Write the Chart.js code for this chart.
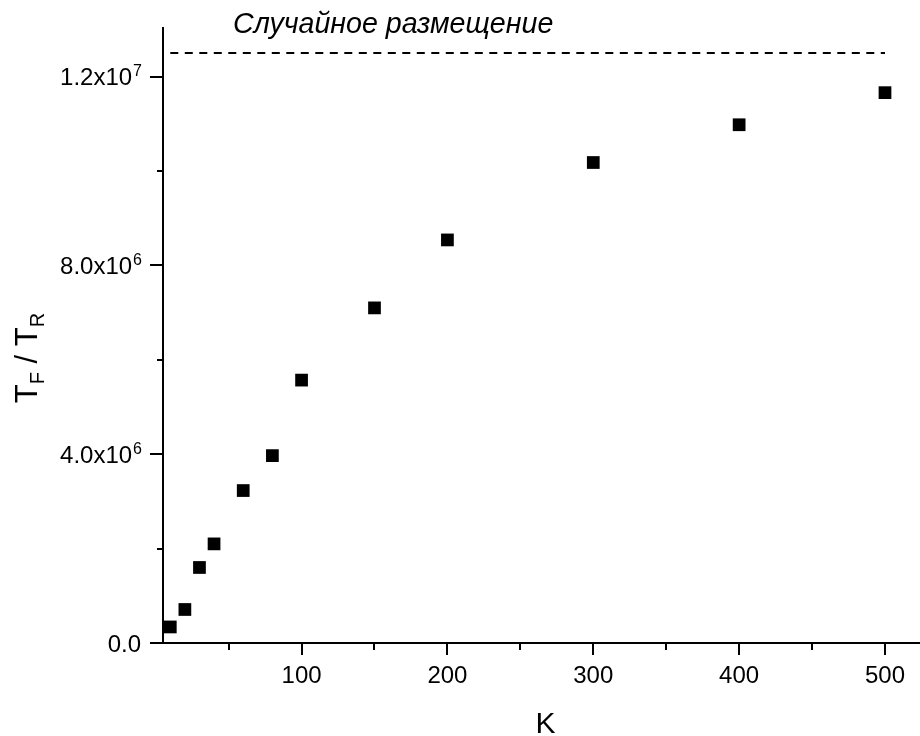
<!DOCTYPE html>
<html><head><meta charset="utf-8">
<script src="https://cdn.jsdelivr.net/npm/chart.js@4.4.1/dist/chart.umd.min.js"></script>
<style>html,body{margin:0;padding:0;background:#fff}#wrap{width:920px;height:736px}</style>
</head><body><div id="wrap"><canvas id="c" width="920" height="736"></canvas></div>
<script>
// ---- data ----
const kValues = [10, 20, 30, 40, 60, 80, 100, 150, 200, 300, 400, 500];
const ratioValues = [0.34e6, 0.71e6, 1.60e6, 2.10e6, 3.23e6, 3.97e6, 5.57e6, 7.10e6, 8.54e6, 10.18e6, 10.98e6, 11.66e6];
const randomLevel = 1.25e7;
const randomLineK = [10, 500];
const randomLabel = 'Случайное размещение';
const xMajorTicks = [100, 200, 300, 400, 500];
const xMinorTicks = [50, 150, 250, 350, 450];
const xTickLabels = ['100', '200', '300', '400', '500'];
const yMajorTicks = [0, 4e6, 8e6, 1.2e7];
const yMinorTicks = [2e6, 6e6, 1e7];
const yTickMantissa = ['0.0', '4.0x10', '8.0x10', '1.2x10'];
const yTickExponent = ['', '6', '6', '7'];
const xTitle = 'K';
const yTitleParts = [['T', false], ['F', true], [' / ', false], ['T', false], ['R', true]];

// ---- styles ----
const FONT = '"Liberation Sans", Arial, sans-serif';
const labelAnchorK = 53;

const decor = {
  id: 'decor',
  afterDraw(chart) {
    const ctx = chart.ctx, ca = chart.chartArea;
    const xs = chart.scales.x, ys = chart.scales.y;
    ctx.save();
    ctx.strokeStyle = '#000';
    ctx.lineWidth = 2;
    ctx.beginPath();
    xMajorTicks.forEach(v => { const p = Math.round(xs.getPixelForValue(v)); ctx.moveTo(p, ca.bottom); ctx.lineTo(p, ca.bottom + 12); });
    xMinorTicks.forEach(v => { const p = Math.round(xs.getPixelForValue(v)); ctx.moveTo(p, ca.bottom); ctx.lineTo(p, ca.bottom + 7); });
    yMajorTicks.forEach(v => { const p = Math.round(ys.getPixelForValue(v)); ctx.moveTo(ca.left, p); ctx.lineTo(ca.left - 13, p); });
    yMinorTicks.forEach(v => { const p = Math.round(ys.getPixelForValue(v)); ctx.moveTo(ca.left, p); ctx.lineTo(ca.left - 6, p); });
    ctx.stroke();

    ctx.fillStyle = '#000';
    ctx.textBaseline = 'alphabetic';
    // y tick labels with superscript exponents
    yMajorTicks.forEach((v, i) => {
      const p = ys.getPixelForValue(v);
      let right = ca.left - 21;
      if (yTickExponent[i]) {
        ctx.font = '16px ' + FONT;
        ctx.textAlign = 'right';
        ctx.fillText(yTickExponent[i], right, p - 0.5);
        right -= ctx.measureText(yTickExponent[i]).width + 1;
      } else {
        right -= 1;
      }
      ctx.font = '24px ' + FONT;
      ctx.textAlign = 'right';
      ctx.fillText(yTickMantissa[i], right, p + 8.5);
    });

    // annotation
    ctx.font = 'italic 28.6px ' + FONT;
    ctx.textAlign = 'left';
    ctx.fillText(randomLabel, xs.getPixelForValue(labelAnchorK), ca.top + 5);

    // x title
    ctx.font = '30px ' + FONT;
    ctx.textAlign = 'center';
    ctx.fillText(xTitle, (ca.left + ca.right) / 2 + 4, 733);

    // y title (rotated, with subscripts)
    const bigF = '31px ' + FONT, subF = '20px ' + FONT;
    let total = 0;
    yTitleParts.forEach(([t, sub]) => { ctx.font = sub ? subF : bigF; total += ctx.measureText(t).width; });
    ctx.translate(37, 358);
    ctx.rotate(-Math.PI / 2);
    ctx.textAlign = 'left';
    let x = -total / 2;
    yTitleParts.forEach(([t, sub]) => {
      ctx.font = sub ? subF : bigF;
      ctx.fillText(t, x, sub ? 7 : 0);
      x += ctx.measureText(t).width;
    });
    ctx.restore();
  }
};

const noPad = s => { s.paddingTop = 0; s.paddingBottom = 0; s.paddingLeft = 0; s.paddingRight = 0; };

new Chart(document.getElementById('c'), {
  type: 'scatter',
  data: {
    datasets: [
      {
        data: kValues.map((k, i) => ({ x: k, y: ratioValues[i] })),
        pointStyle: 'rect', pointRadius: 9, pointHoverRadius: 9,
        backgroundColor: '#000', borderColor: '#000', borderWidth: 0, showLine: false
      },
      {
        type: 'line',
        data: randomLineK.map(k => ({ x: k, y: randomLevel })),
        borderColor: '#000', borderWidth: 2, borderDash: [8, 6.5],
        pointRadius: 0, fill: false
      }
    ]
  },
  options: {
    responsive: false, animation: false, devicePixelRatio: 1,
    layout: { autoPadding: false, padding: { top: 28, right: 0, bottom: 0, left: 0 } },
    plugins: { legend: { display: false }, tooltip: { enabled: false }, title: { display: false } },
    scales: {
      x: {
        type: 'linear', min: 5, max: 524,
        afterBuildTicks: s => { s.ticks = xMajorTicks.map(v => ({ value: v })); },
        afterFit: s => { s.height = 93; noPad(s); },
        ticks: {
          autoSkip: false, maxRotation: 0, color: '#000', padding: 19,
          font: { family: FONT, size: 24 },
          callback: v => { const i = xMajorTicks.indexOf(v); return i >= 0 ? xTickLabels[i] : ''; }
        },
        grid: { display: false, drawTicks: false },
        border: { display: true, color: '#000', width: 2 }
      },
      y: {
        type: 'linear', min: 0, max: 1.303e7,
        afterBuildTicks: s => { s.ticks = yMajorTicks.map(v => ({ value: v })); },
        afterFit: s => { s.width = 163; noPad(s); },
        ticks: { display: false },
        grid: { display: false, drawTicks: false },
        border: { display: true, color: '#000', width: 2 }
      }
    }
  },
  plugins: [decor]
});
</script>
</body></html>
